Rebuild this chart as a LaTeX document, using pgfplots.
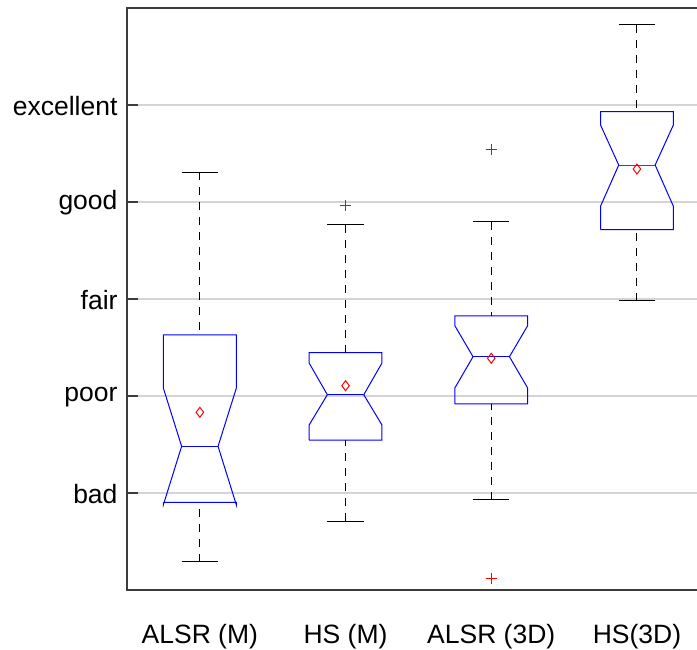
\documentclass[border=0pt]{standalone}
\usepackage{fontspec}
\setmainfont{Liberation Sans}
\usepackage{pgfplots}
\pgfplotsset{compat=1.18}
\definecolor{gridc}{RGB}{212,212,212}
\definecolor{axisc}{RGB}{60,60,60}
\definecolor{mblue}{RGB}{0,0,255}
\definecolor{mred}{RGB}{255,0,0}
\begin{document}
\begin{tikzpicture}
\path[use as bounding box, clip] (-127pt,-60pt) rectangle (570pt,590pt);
\begin{axis}[
  at={(0,0)}, anchor=south west,
  scale only axis, width=582.8pt, height=582pt,
  xmin=0.5, xmax=4.5, ymin=0, ymax=6,
  xtick={1,2,3,4},
  xticklabels={ALSR (M), HS (M), ALSR (3D), HS(3D)},
  ytick={1,2,3,4,5},
  yticklabels={bad, poor, fair, good, excellent},
  ymajorgrids,
  major grid style={gridc, line width=1.4pt},
  axis line style={axisc, line width=1.3pt},
  tick align=inside,
  ytick pos=left,
  major tick length=11pt,
  ytick style={axisc, line width=1.3pt},
  xtick style={draw=none},
  tick label style={font=\fontsize{26.5}{31}\selectfont},
  xticklabel style={yshift=-31pt},
  yticklabel style={xshift=-6pt, yshift=-1pt},
  clip=false,
]
% ---- Box 1: ALSR (M)
\addplot[mblue, line width=1pt, line join=miter] coordinates {(0.75,0.904) (0.75,0.88) (0.875,1.481) (0.75,2.079) (0.75,2.629) (1.25,2.629) (1.25,2.079) (1.125,1.481) (1.25,0.88) (1.25,0.904) (0.75,0.904)};
\addplot[mblue, line width=1pt] coordinates {(0.875,1.481) (1.125,1.481)};
\addplot[black, line width=1pt, dash pattern=on 8pt off 7pt] coordinates {(1,4.309) (1,2.629)};
\addplot[black, line width=1pt, dash pattern=on 8pt off 7pt] coordinates {(1,0.289) (1,0.904)};
\addplot[black, line width=1pt] coordinates {(0.875,4.309) (1.125,4.309)};
\addplot[black, line width=1pt] coordinates {(0.875,0.289) (1.125,0.289)};
% ---- Box 2: HS (M)
\addplot[mblue, line width=1pt, line join=miter] coordinates {(1.75,1.546) (1.75,1.701) (1.875,2.013) (1.75,2.340) (1.75,2.446) (2.25,2.446) (2.25,2.340) (2.125,2.013) (2.25,1.701) (2.25,1.546) (1.75,1.546)};
\addplot[mblue, line width=1pt] coordinates {(1.875,2.013) (2.125,2.013)};
\addplot[black, line width=1pt, dash pattern=on 8pt off 7pt] coordinates {(2,3.763) (2,2.446)};
\addplot[black, line width=1pt, dash pattern=on 8pt off 7pt] coordinates {(2,0.711) (2,1.546)};
\addplot[black, line width=1pt] coordinates {(1.875,3.763) (2.125,3.763)};
\addplot[black, line width=1pt] coordinates {(1.875,0.711) (2.125,0.711)};
% ---- Box 3: ALSR (3D)
\addplot[mblue, line width=1pt, line join=miter] coordinates {(2.75,1.918) (2.75,2.082) (2.875,2.405) (2.75,2.725) (2.75,2.825) (3.25,2.825) (3.25,2.725) (3.125,2.405) (3.25,2.082) (3.25,1.918) (2.75,1.918)};
\addplot[mblue, line width=1pt] coordinates {(2.875,2.405) (3.125,2.405)};
\addplot[black, line width=1pt, dash pattern=on 8pt off 7pt] coordinates {(3,3.794) (3,2.825)};
\addplot[black, line width=1pt, dash pattern=on 8pt off 7pt] coordinates {(3,0.931) (3,1.918)};
\addplot[black, line width=1pt] coordinates {(2.875,3.794) (3.125,3.794)};
\addplot[black, line width=1pt] coordinates {(2.875,0.931) (3.125,0.931)};
% ---- Box 4: HS(3D)
\addplot[mblue, line width=1pt, line join=miter] coordinates {(3.75,3.714) (3.75,3.956) (3.875,4.381) (3.75,4.794) (3.75,4.931) (4.25,4.931) (4.25,4.794) (4.125,4.381) (4.25,3.956) (4.25,3.714) (3.75,3.714)};
\addplot[mred, line width=1pt] coordinates {(3.875,4.381) (4.125,4.381)};
\addplot[black, line width=1pt, dash pattern=on 8pt off 7pt] coordinates {(4,5.825) (4,4.931)};
\addplot[black, line width=1pt, dash pattern=on 8pt off 7pt] coordinates {(4,2.982) (4,3.714)};
\addplot[black, line width=1pt] coordinates {(3.875,5.825) (4.125,5.825)};
\addplot[black, line width=1pt] coordinates {(3.875,2.982) (4.125,2.982)};
% ---- Means
\addplot[only marks, mark=diamond, mark size=5pt, mred, mark options={draw=mred, fill=none, line width=1pt}] coordinates {(1,1.832) (2,2.106) (3,2.389) (4,4.340)};
% ---- Outliers
\addplot[only marks, mark=+, mark size=5.5pt, color=mred, mark options={color=mred, solid, line width=1.1pt}] coordinates {(2,3.962) (3,4.539) (3,0.121)};
\end{axis}
\end{tikzpicture}
\end{document}
